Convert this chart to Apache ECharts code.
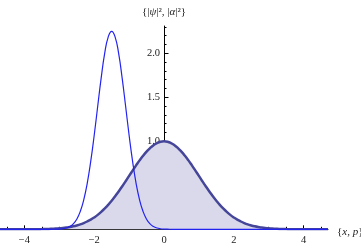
<!DOCTYPE html>
<html>
<head>
<meta charset="utf-8">
<script src="https://cdn.jsdelivr.net/npm/echarts@6/dist/echarts.min.js"></script>
<style>html,body{margin:0;padding:0;background:#fff;}#c{width:361px;height:244px;}</style>
</head>
<body>
<div id="c"></div>
<script>
var xs = [-4.7,-4.6,-4.5,-4.4,-4.3,-4.2,-4.1,-4.0,-3.9,-3.8,-3.7,-3.6,-3.5,-3.4,-3.3,-3.2,-3.1,-3.0,-2.9,-2.8,-2.7,-2.6,-2.5,-2.4,-2.3,-2.2,-2.1,-2.0,-1.9,-1.8,-1.7,-1.6,-1.5,-1.4,-1.3,-1.2,-1.1,-1.0,-0.9,-0.8,-0.7,-0.6,-0.5,-0.4,-0.3,-0.2,-0.1,0.0,0.1,0.2,0.3,0.4,0.5,0.6,0.7,0.8,0.9,1.0,1.1,1.2,1.3,1.4,1.5,1.6,1.7,1.8,1.9,2.0,2.1,2.2,2.3,2.4,2.5,2.6,2.7,2.8,2.9,3.0,3.1,3.2,3.3,3.4,3.5,3.6,3.7,3.8,3.9,4.0,4.1,4.2,4.3,4.4,4.5,4.6,4.7];
var psiSq = [0,0,0,0,0,0,0,0,0,0,0,0,0,0,0,
  0.0004,0.0011,0.0028,0.0066,0.0147,0.031,0.061,0.115,0.202,0.335,0.523,0.771,1.069,1.398,1.721,1.998,2.184,2.25,2.184,1.998,1.721,1.398,1.069,0.771,0.523,0.335,0.202,0.115,0.061,0.031,0.0147,0.0066,0.0028,0.0011,0.0004,
  0,0,0,0,0,0,0,0,0,0,0,0,0,0,0,0,0,0,0,0,0,0,0,0,0,0,0,0,0,0,0,0,0,0,0,0,0,0,0,0,0,0,0,0,0];
var alphaSq = [0,0,0,0,
  0.0001,0.0001,0.0002,0.0003,0.0005,0.0007,0.001,0.0015,0.002,0.003,0.004,0.006,0.008,0.011,0.015,0.020,0.026,0.034,0.044,0.056,0.071,0.089,0.110,0.135,0.164,0.198,0.236,0.278,0.325,0.375,0.430,0.487,0.546,0.607,0.667,0.726,0.783,0.835,0.882,0.923,0.956,0.980,0.995,
  1.000,
  0.995,0.980,0.956,0.923,0.882,0.835,0.783,0.726,0.667,0.607,0.546,0.487,0.430,0.375,0.325,0.278,0.236,0.198,0.164,0.135,0.110,0.089,0.071,0.056,0.044,0.034,0.026,0.020,0.015,0.011,0.008,0.006,0.004,0.003,0.002,0.0015,0.001,0.0007,0.0005,0.0003,0.0002,0.0001,0.0001,
  0,0,0,0];
var xLabelVals = [-4,-2,0,2,4];
var xMajorTicks = [-4,-2,2,4];
var xMinorTicks = [-4.5,-3.5,-3,-2.5,-1.5,-1,-0.5,0.5,1,1.5,2.5,3,3.5,4.5];
var yLabelVals = [0.5,1.0,1.5,2.0];
var yMinorTicks = [0.1,0.2,0.3,0.4,0.6,0.7,0.8,0.9,1.1,1.2,1.3,1.4,1.6,1.7,1.8,1.9,2.1,2.2,2.3];
var xName = '{{i|x}, {i|p}}';
var yName = '{|{i|ψ}|², |{i|α}|²}';

function zip(a, b) { return a.map(function (v, i) { return [v, b[i]]; }); }
var font = "'Liberation Serif', 'DejaVu Serif', serif";
var txtColor = '#222';
var richI = { i: { fontStyle: 'italic', fontFamily: font, fontSize: 11, color: txtColor } };
var gridW = 328;
var yOff = -gridW / 2;

var chart = echarts.init(document.getElementById('c'), null, { renderer: 'canvas' });
chart.setOption({
  animation: false,
  grid: { left: 0, width: gridW, top: 26, bottom: 14.7, containLabel: false, outerBoundsMode: 'none' },
  xAxis: [{
    type: 'value', min: -4.7, max: 4.7,
    position: 'bottom',
    axisLine: { show: true, onZero: false, lineStyle: { color: '#000', width: 1 } },
    axisTick: { show: true, inside: true, length: 4, customValues: xMajorTicks, lineStyle: { color: '#000' } },
    axisLabel: { show: true, customValues: xLabelVals, margin: 5, fontFamily: font, fontSize: 10.5, color: txtColor,
      formatter: function (v) { return v < 0 ? '\u2212' + Math.abs(v) : String(v); } },
    splitLine: { show: false },
    name: xName, nameLocation: 'end', nameGap: 9,
    nameTextStyle: { fontFamily: font, fontSize: 11, color: txtColor, padding: [6, 0, 0, 0], rich: richI }
  }, {
    type: 'value', min: -4.7, max: 4.7, position: 'bottom',
    axisLine: { show: false, onZero: false },
    axisTick: { show: true, inside: true, length: 2.5, customValues: xMinorTicks, lineStyle: { color: '#000' } },
    axisLabel: { show: false },
    splitLine: { show: false }
  }],
  yAxis: [{
    type: 'value', min: 0, max: 2.31, position: 'left', offset: yOff,
    axisLine: { show: true, onZero: false, lineStyle: { color: '#000', width: 1 } },
    axisTick: { show: true, inside: true, length: 4.5, customValues: yLabelVals, lineStyle: { color: '#000' } },
    axisLabel: { show: true, customValues: yLabelVals, margin: 4, fontFamily: font, fontSize: 10.5, color: txtColor,
      formatter: function (v) { return v.toFixed(1); } },
    splitLine: { show: false },
    name: yName, nameLocation: 'end', nameGap: 8,
    nameTextStyle: { fontFamily: font, fontSize: 11, color: txtColor, align: 'center', rich: richI }
  }, {
    type: 'value', min: 0, max: 2.31, position: 'left', offset: yOff,
    axisLine: { show: false, onZero: false },
    axisTick: { show: true, inside: true, length: 2.5, customValues: yMinorTicks, lineStyle: { color: '#000' } },
    axisLabel: { show: false },
    splitLine: { show: false }
  }],
  series: [{
    type: 'line', xAxisIndex: 0, yAxisIndex: 0,
    data: zip(xs, alphaSq), showSymbol: false, smooth: true, z: 2,
    lineStyle: { color: '#45459a', width: 2.5 },
    areaStyle: { color: '#d9d9eb', opacity: 1, origin: 'start' }
  }, {
    type: 'line', xAxisIndex: 0, yAxisIndex: 0,
    data: zip(xs, psiSq), showSymbol: false, smooth: true, z: 3,
    lineStyle: { color: '#2323f0', width: 1.2 }
  }]
});
</script>
</body>
</html>
